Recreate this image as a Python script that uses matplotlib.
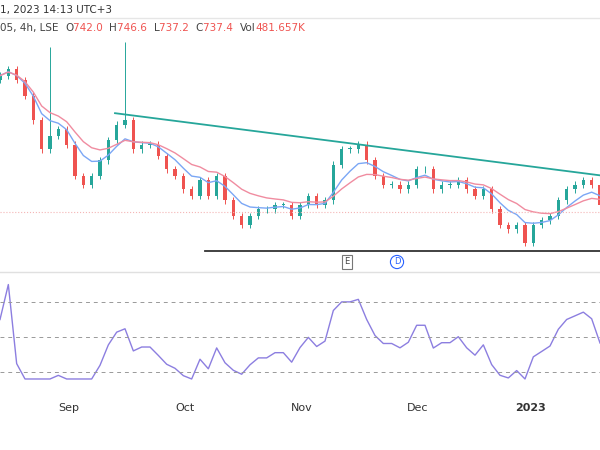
import numpy as np
import pandas as pd
import matplotlib.pyplot as plt

# 4h closes (approx. price units)
closes = [793, 796, 791, 784, 773, 760, 766, 769, 762, 748, 744, 748, 755, 764,
          771, 773, 760, 762, 762, 757, 751, 748, 742, 739, 746, 739, 748, 737,
          730, 726, 730, 733, 733, 735, 735, 730, 735, 739, 735, 737, 753, 760,
          760, 762, 755, 748, 744, 744, 742, 744, 751, 751, 742, 744, 744, 746,
          742, 739, 742, 733, 726, 724, 726, 718, 726, 728, 730, 737, 742, 744,
          746, 744, 735]
spike_highs = {6: 806, 15: 808}
month_labels = ["Sep", "Oct", "Nov", "Dec", "2023"]
month_x = [69, 185, 302, 418, 530]
header_1 = "1, 2023 14:13 UTC+3"
header_2 = [("05, 4h, LSE  ", "#444444"), ("O", "#444444"), ("742.0  ", "#ef5350"),
            ("H", "#444444"), ("746.6  ", "#ef5350"), ("L", "#444444"), ("737.2  ", "#ef5350"),
            ("C", "#444444"), ("737.4  ", "#ef5350"), ("Vol", "#444444"), ("481.657K", "#ef5350")]

UP, DOWN = "#26a69a", "#ef5350"
W, H = 600, 450

c = pd.Series(closes, dtype=float)
o = c.shift(1).fillna(c.iloc[0] - 2)
ema_fast = c.ewm(span=6).mean()
ema_slow = c.ewm(span=12).mean()
delta = c.diff()
gain = delta.clip(lower=0).ewm(alpha=1/9).mean()
loss = (-delta.clip(upper=0)).ewm(alpha=1/9).mean()
rsi = 100 - 100 / (1 + gain / loss.replace(0, 1e-9))
rsi = rsi.fillna(60).clip(26, 80)

x = np.arange(len(c)) * W / (len(c) - 1)
step = x[1] - x[0]

fig = plt.figure(figsize=(6, 4.5), dpi=100)
fig.patch.set_facecolor("white")


def fy(px):
    return 1 - px / H


ax = fig.add_axes([0, fy(265), 1, fy(40) - fy(265)])
ax.set_xlim(0, W)
ax.set_ylim(708, 809)
for i in range(len(c)):
    col = UP if c[i] >= o[i] else DOWN
    hi = spike_highs.get(i, max(o[i], c[i]) + 1.5)
    lo = min(o[i], c[i]) - 1.5
    ax.vlines(x[i], lo, hi, color=col, lw=0.7)
    ax.bar(x[i], abs(c[i] - o[i]) or 0.3, bottom=min(o[i], c[i]), width=step * 0.4, color=col)
ax.plot(x, ema_fast, color="#7ba7f5", lw=1)
ax.plot(x, ema_slow, color="#f08ca0", lw=1)
ax.axhline(731.6, color="#f4b6b6", lw=0.8, ls=":")
ax.plot([115, 600], [827 - 0.45 * 113, 827 - 0.45 * 175], color="#26a69a", lw=1.3)
ax.plot([205, 600], [827 - 0.45 * 250] * 2, color="#333333", lw=1.3)
ax.axis("off")

rax = fig.add_axes([0, fy(390), 1, fy(280) - fy(390)])
rax.set_xlim(0, W)
rax.set_ylim(19.7, 82.6)
rax.plot(x, rsi, color="#8c7ee0", lw=1)
for lvl in (70, 50, 30):
    rax.axhline(lvl, color="#999999", lw=0.7, ls=(0, (4, 4)))
rax.axis("off")

fig.add_artist(plt.Line2D([0, 1], [fy(272)] * 2, color="#e0e0e0", lw=1))
fig.add_artist(plt.Line2D([0, 1], [fy(18)] * 2, color="#e6e6e6", lw=1))
fig.text(0, fy(10), header_1, fontsize=7.5, color="#333333", va="center")

renderer = fig.canvas.get_renderer()
xx = 0
for s, col in header_2:
    t = fig.text(xx / W, fy(28), s, fontsize=7.5, color=col, va="center")
    xx += t.get_window_extent(renderer).width

fig.text(347 / W, fy(262), "E", fontsize=6, ha="center", va="center", color="#444444",
         bbox=dict(boxstyle="square,pad=0.25", fc="white", ec="#777777", lw=0.8))
fig.text(397 / W, fy(262), "D", fontsize=6, ha="center", va="center", color="#2962ff",
         bbox=dict(boxstyle="circle,pad=0.25", fc="white", ec="#2962ff", lw=0.8))

for lab, mx in zip(month_labels, month_x):
    fig.text(mx / W, fy(408), lab, fontsize=8, ha="center", va="center", color="#333333",
             fontweight="bold" if lab == "2023" else "normal")

fig.savefig("out.png", dpi=100)
